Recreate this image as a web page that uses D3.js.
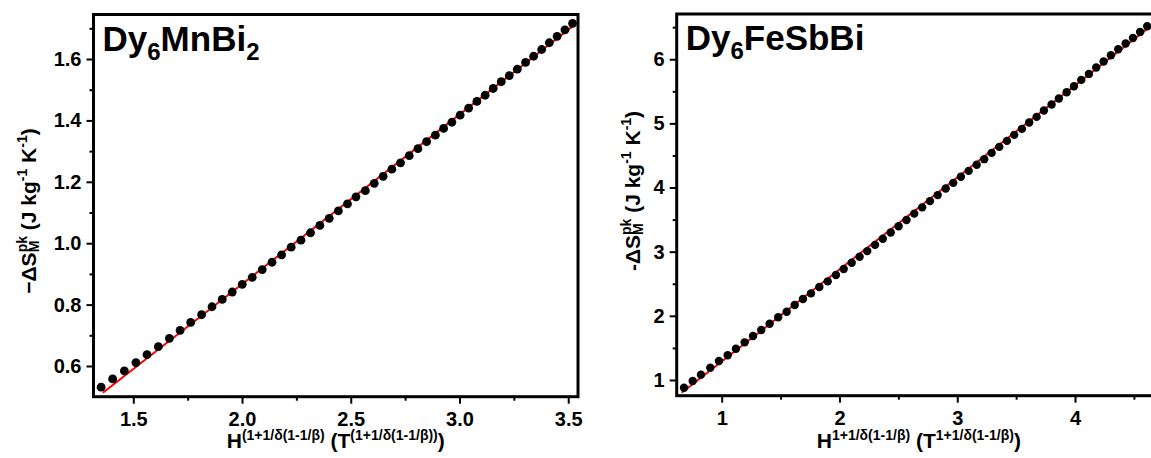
<!DOCTYPE html>
<html>
<head>
<meta charset="utf-8">
<script src="https://cdn.jsdelivr.net/npm/d3@7"></script>
<style>
  body { margin: 0; background: #fff; }
  svg { display: block; }
  text { font-family: "Liberation Sans", Arial, sans-serif; font-weight: bold; fill: #000; }
</style>
</head>
<body>
<svg id="chart" width="1151" height="458"></svg>
<script>
// Dy6MnBi2 : -dS_M^pk vs H^n
const mnX = [1.352, 1.405, 1.459, 1.512, 1.563, 1.615, 1.666, 1.715, 1.764, 1.814, 1.862, 1.909, 1.955, 2.001, 2.047, 2.093, 2.138, 2.182, 2.226, 2.271,
  2.315, 2.358, 2.401, 2.443, 2.485,
  2.524, 2.567, 2.608, 2.649, 2.689, 2.729, 2.769, 2.809, 2.849, 2.889, 2.927, 2.965, 3.003, 3.042, 3.080, 3.118, 3.155, 3.192, 3.229, 3.266, 3.304, 3.341, 3.378, 3.413, 3.449, 3.485, 3.520]
const mnY = [0.531, 0.558, 0.584, 0.611, 0.637, 0.663, 0.690, 0.716, 0.742, 0.767, 0.793, 0.817, 0.841, 0.866, 0.889, 0.914, 0.938, 0.962, 0.987, 1.010,
  1.034, 1.058, 1.081, 1.105, 1.128,
  1.151, 1.171, 1.195, 1.218, 1.241, 1.262, 1.285, 1.308, 1.331, 1.352, 1.374, 1.394, 1.417, 1.440, 1.462, 1.482, 1.504, 1.526, 1.546, 1.567, 1.589, 1.609, 1.631, 1.653, 1.674, 1.695, 1.716]
const mnFitX = [1.36, 3.53]
const mnFitY = [0.513, 1.712]

// Dy6FeSbBi
const feX = [0.680, 0.754, 0.824, 0.903, 0.977, 1.051, 1.121, 1.195, 1.266, 1.336, 1.407, 1.480, 1.552, 1.620, 1.690, 1.758, 1.829, 1.900, 1.970, 2.036, 2.104, 2.171, 2.236,
  2.302, 2.368, 2.435, 2.502, 2.569, 2.635, 2.702,
  2.768, 2.834, 2.902, 2.966, 3.031, 3.097, 3.165, 3.229, 3.292, 3.357, 3.422, 3.484, 3.549, 3.611, 3.674, 3.736, 3.801, 3.863, 3.929, 3.991, 4.053, 4.118, 4.180, 4.243, 4.305, 4.367, 4.430, 4.492, 4.553, 4.613]
const feY = [0.880, 0.984, 1.083, 1.192, 1.295, 1.385, 1.488, 1.587, 1.685, 1.779, 1.877, 1.977, 2.064, 2.168, 2.262, 2.350, 2.449, 2.537, 2.636, 2.729, 2.827, 2.921, 3.009,
  3.106, 3.202, 3.300, 3.397, 3.495, 3.593, 3.691,
  3.788, 3.882, 3.986, 4.073, 4.167, 4.260, 4.354, 4.442, 4.540, 4.634, 4.727, 4.821, 4.914, 5.014, 5.101, 5.201, 5.294, 5.388, 5.486, 5.579, 5.678, 5.771, 5.871, 5.964, 6.062, 6.156, 6.245, 6.332, 6.425, 6.514]
const feFitX = [0.66, 4.73]
const feFitY = [0.80, 6.64]

// ticks
const mnXTicks = [1.5, 2.0, 2.5, 3.0, 3.5]
const mnXMinor = [1.75, 2.25, 2.75, 3.25]
const mnYTicks = [0.6, 0.8, 1.0, 1.2, 1.4, 1.6]
const mnYMinor = [0.7, 0.9, 1.1, 1.3, 1.5, 1.7]
const feXTicks = [1, 2, 3, 4]
const feXMinor = [1.5, 2.5, 3.5, 4.5]
const feYTicks = [1, 2, 3, 4, 5, 6]
const feYMinor = [1.5, 2.5, 3.5, 4.5, 5.5, 6.5]

const svg = d3.select('#chart')

// append tspans one after another; dy is the shift from the baseline (negative = up)
// stack: true puts the piece under the previous one (super + subscript pair)
function addRich(text, parts) {
  let shift = 0
  let carry = 0
  parts.forEach(p => {
    const d = p.dy || 0
    const ts = text.append('tspan')
      .style('font-size', p.fs + 'px')
      .attr('dy', d - shift)
      .text(p.t)
    if (p.stack) {
      const prevW = ts.node().previousSibling.getComputedTextLength()
      const w = ts.node().getComputedTextLength()
      ts.attr('dx', -prevW)
      carry = Math.max(0, prevW - w)
    } else if (carry) {
      ts.attr('dx', carry)
      carry = 0
    }
    shift = d
  })
}

function drawPanel(cfg) {
  const x = d3.scaleLinear().domain(cfg.xDomain).range([cfg.left, cfg.right])
  const y = d3.scaleLinear().domain(cfg.yDomain).range([cfg.bottom, cfg.top])
  const g = svg.append('g')

  // minor ticks
  g.append('g')
    .attr('transform', `translate(0,${cfg.bottom})`)
    .call(d3.axisBottom(x).tickValues(cfg.xMinor).tickSize(4).tickFormat(''))
  g.append('g')
    .attr('transform', `translate(${cfg.left},0)`)
    .call(d3.axisLeft(y).tickValues(cfg.yMinor).tickSize(4).tickFormat(''))

  // major ticks
  g.append('g')
    .attr('transform', `translate(0,${cfg.bottom})`)
    .call(d3.axisBottom(x).tickValues(cfg.xTicks).tickSize(7).tickPadding(8).tickFormat(cfg.fmtX))
  g.append('g')
    .attr('transform', `translate(${cfg.left},0)`)
    .call(d3.axisLeft(y).tickValues(cfg.yTicks).tickSize(7).tickPadding(5).tickFormat(cfg.fmtY))

  g.selectAll('.domain').remove()
  g.selectAll('.tick line').attr('stroke', '#000').attr('stroke-width', 2)
  g.selectAll('.tick text')
    .attr('fill', '#000')
    .style('font-size', '20px')
    .style('font-family', '"Liberation Sans", Arial, sans-serif')
    .style('font-weight', 'bold')

  // linear fit
  g.append('path')
    .datum(d3.zip(cfg.fitX, cfg.fitY))
    .attr('d', d3.line().x(d => x(d[0])).y(d => y(d[1])))
    .attr('fill', 'none')
    .attr('stroke', '#ff0000')
    .attr('stroke-width', 2)

  // data points
  g.append('g')
    .selectAll('circle')
    .data(d3.zip(cfg.xs, cfg.ys))
    .join('circle')
    .attr('cx', d => x(d[0]))
    .attr('cy', d => y(d[1]))
    .attr('r', cfg.r)
    .attr('fill', '#000')

  // frame
  g.append('rect')
    .attr('x', cfg.left)
    .attr('y', cfg.top)
    .attr('width', cfg.right - cfg.left)
    .attr('height', cfg.bottom - cfg.top)
    .attr('fill', 'none')
    .attr('stroke', '#000')
    .attr('stroke-width', 3)

  // sample name
  const title = g.append('text').attr('x', cfg.left + 9).attr('y', cfg.top + 36)
  addRich(title, cfg.title)

  // y label
  const yl = g.append('text')
    .attr('text-anchor', 'middle')
    .attr('transform', `translate(${cfg.yLabelX},${cfg.yLabelY}) rotate(-90)`)
  addRich(yl, cfg.yLabel)

  // x label
  const xl = g.append('text')
    .attr('text-anchor', 'middle')
    .attr('x', (cfg.left + cfg.right) / 2)
    .attr('y', 448)
  addRich(xl, cfg.xLabel)
}

const supFs = 14
const yLabel = dash => [
  { t: dash + 'ΔS', fs: 21 },
  { t: 'pk', fs: 14, dy: -9 },
  { t: 'M', fs: 14, dy: 3, stack: true },
  { t: ' (J kg', fs: 21 },
  { t: '-1', fs: 14, dy: -9 },
  { t: ' K', fs: 21 },
  { t: '-1', fs: 14, dy: -9 },
  { t: ')', fs: 21 }
]

drawPanel({
  left: 93.5, right: 578, top: 14.5, bottom: 396.7,
  xDomain: [1.317, 3.545], yDomain: [0.5, 1.745],
  xTicks: mnXTicks, xMinor: mnXMinor, yTicks: mnYTicks, yMinor: mnYMinor,
  fmtX: d3.format('.1f'), fmtY: d3.format('.1f'),
  xs: mnX, ys: mnY, fitX: mnFitX, fitY: mnFitY, r: 4.4,
  title: [
    { t: 'Dy', fs: 35 }, { t: '6', fs: 24, dy: 9 }, { t: 'MnBi', fs: 35 }, { t: '2', fs: 24, dy: 9 }
  ],
  yLabel: yLabel('−'), yLabelX: 36, yLabelY: 211,
  xLabel: [
    { t: 'H', fs: 21 }, { t: '(1+1/δ(1-1/β)', fs: supFs, dy: -8 },
    { t: ' (T', fs: 21 }, { t: '(1+1/δ(1-1/β))', fs: supFs, dy: -8 }, { t: ')', fs: 21 }
  ]
})

drawPanel({
  left: 676.7, right: 1161, top: 14, bottom: 395.7,
  xDomain: [0.618, 4.73], yDomain: [0.755, 6.705],
  xTicks: feXTicks, xMinor: feXMinor, yTicks: feYTicks, yMinor: feYMinor,
  fmtX: d3.format('d'), fmtY: d3.format('d'),
  xs: feX, ys: feY, fitX: feFitX, fitY: feFitY, r: 4.2,
  title: [
    { t: 'Dy', fs: 35 }, { t: '6', fs: 24, dy: 9 }, { t: 'FeSbBi', fs: 35 }
  ],
  yLabel: yLabel('-'), yLabelX: 640, yLabelY: 191,
  xLabel: [
    { t: 'H', fs: 21 }, { t: '1+1/δ(1-1/β)', fs: supFs, dy: -8 },
    { t: ' (T', fs: 21 }, { t: '1+1/δ(1-1/β)', fs: supFs, dy: -8 }, { t: ')', fs: 21 }
  ]
})
</script>
</body>
</html>
